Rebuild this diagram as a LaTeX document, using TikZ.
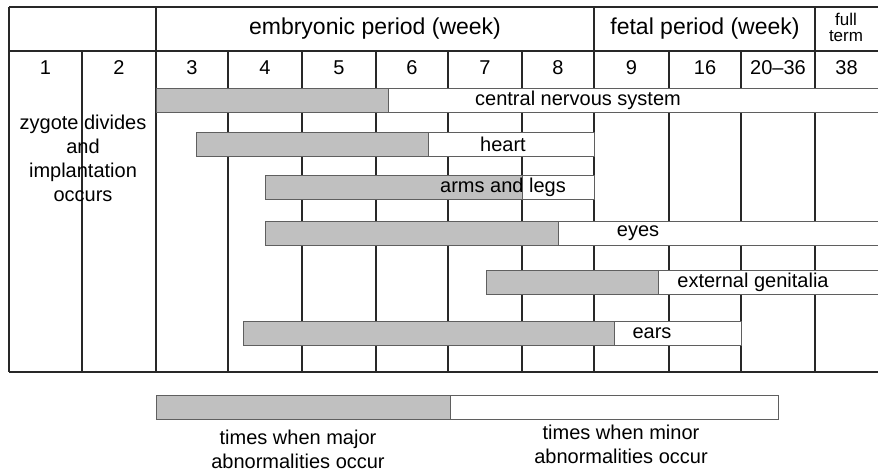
\documentclass[tikz,border=0pt]{standalone}
\usepackage{fontspec}
\setmainfont{Liberation Sans}
\definecolor{barfill}{RGB}{192,192,192}
\definecolor{gridc}{RGB}{40,40,40}
\definecolor{barline}{RGB}{95,95,95}
\newcommand\ganttbar[7]{% name, ytop, x0, xsplit, xend, labelx, label
  \node[greybox, minimum width={(#4-#3)*1pt}] (#1g) at ({(#3+#4)/2},{#2+12}) {};
  \node[whitebox, minimum width={(#5-#4)*1pt}] (#1w) at ({(#4+#5)/2},{#2+12}) {};
  \node[lbl] (#1l) at (#6,{#2+12}) {#7};
}
\begin{document}
\begin{tikzpicture}[x=1pt,y=-1pt,
  gridline/.style={draw=gridc, line width=1.2pt},
  greybox/.style={draw=barline, line width=1pt, fill=barfill, minimum height=24pt, inner sep=0pt},
  whitebox/.style={draw=barline, line width=1pt, fill=white, minimum height=24pt, inner sep=0pt},
  lbl/.style={inner sep=0pt, font=\fontsize{20}{24}\selectfont},
  head/.style={inner sep=0pt, font=\fontsize{23}{27}\selectfont},
  num/.style={inner sep=0pt, font=\fontsize{20}{24}\selectfont},
  small/.style={inner sep=0pt, align=center, font=\fontsize{17}{16}\selectfont},
  note/.style={inner sep=0pt, align=center, font=\fontsize{20}{24}\selectfont}]
\useasboundingbox (0,0) rectangle (878,472);
% grid
\draw[gridline] (9,7) -- (878,7);
\draw[gridline] (9,51) -- (878,51);
\draw[gridline] (9,372) -- (878,372);
\foreach \x in {9,156,594,815} \draw[gridline] (\x,7) -- (\x,372);
\foreach \x in {82,228,302,376,448,522,669,741} \draw[gridline] (\x,51) -- (\x,372);
% headers
\node[head] (emb) at (375,29) {embryonic period (week)};
\node[head] (fet) at (705,29) {fetal period (week)};
\node[small] (full) at (846,27) {full\\term};
% week numbers
\foreach \x/\t [count=\i] in {45.5/1,119/2,192/3,265/4,339/5,412/6,485/7,558/8,631.5/9,705/16,778/20--36,846.5/38}
  \node[num] (w\i) at (\x,68) {\t};
% left text
\node[note] (zyg) at (83,158) {zygote divides\\and\\implantation\\occurs};
% bars
\ganttbar{cns}{88}{156}{388}{880}{578}{central nervous system}
\ganttbar{heart}{132}{196}{428}{594}{503}{heart}
\ganttbar{arms}{175}{265}{522}{594}{503}{arms and legs}
\ganttbar{eyes}{221}{265}{558}{880}{638}{eyes}
\ganttbar{gen}{270}{486}{658}{880}{753}{external genitalia}
\ganttbar{ears}{321}{243}{614}{741}{652}{ears}
% legend
\node[greybox, minimum width=294pt] (lgg) at (303,407) {};
\node[whitebox, minimum width=328pt] (lgw) at (614,407) {};
\node[note] (major) at (298,449) {times when major\\abnormalities occur};
\node[note] (minor) at (621,444) {times when minor\\abnormalities occur};
\end{tikzpicture}
\end{document}
